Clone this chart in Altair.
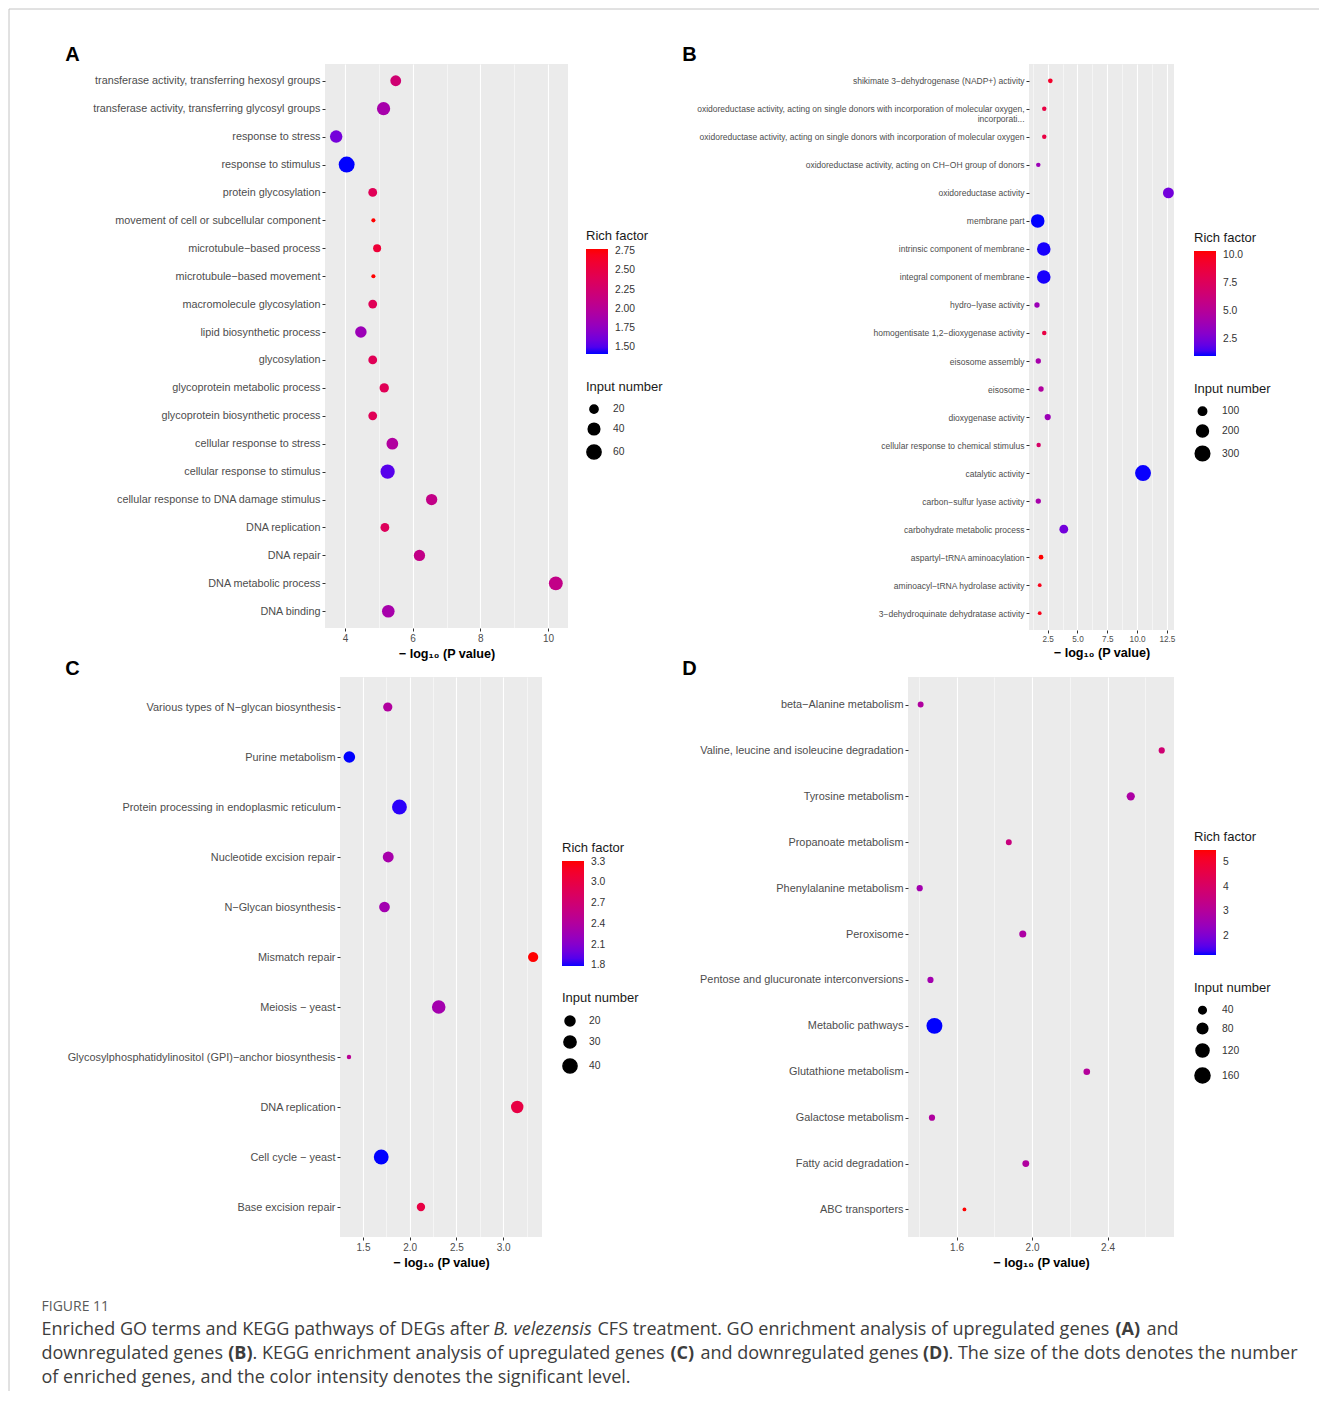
import altair as alt
import pandas as pd

# ---------------- data ----------------
A_TERMS = [
    "transferase activity, transferring hexosyl groups",
    "transferase activity, transferring glycosyl groups",
    "response to stress",
    "response to stimulus",
    "protein glycosylation",
    "movement of cell or subcellular component",
    "microtubule−based process",
    "microtubule−based movement",
    "macromolecule glycosylation",
    "lipid biosynthetic process",
    "glycosylation",
    "glycoprotein metabolic process",
    "glycoprotein biosynthetic process",
    "cellular response to stress",
    "cellular response to stimulus",
    "cellular response to DNA damage stimulus",
    "DNA replication",
    "DNA repair",
    "DNA metabolic process",
    "DNA binding",
]
A_X = [5.50, 5.14, 3.74, 4.05, 4.82, 4.84, 4.95, 4.84, 4.82, 4.47,
       4.82, 5.16, 4.82, 5.40, 5.26, 6.56, 5.18, 6.20, 10.23, 5.28]
A_RICH = [2.23, 1.89, 1.62, 1.41, 2.40, 2.78, 2.57, 2.78, 2.40, 1.82,
          2.40, 2.40, 2.40, 1.96, 1.52, 2.10, 2.37, 2.10, 2.10, 1.89]
A_N = [35, 52, 46, 75, 23, 5, 19, 5, 23, 39, 23, 26, 23, 41, 60, 38, 23, 38, 57, 47]

B_TERMS = [
    "shikimate 3−dehydrogenase (NADP+) activity",
    "oxidoreductase activity, acting on single donors with incorporation of molecular oxygen,|incorporati...",
    "oxidoreductase activity, acting on single donors with incorporation of molecular oxygen",
    "oxidoreductase activity, acting on CH−OH group of donors",
    "oxidoreductase activity",
    "membrane part",
    "intrinsic component of membrane",
    "integral component of membrane",
    "hydro−lyase activity",
    "homogentisate 1,2−dioxygenase activity",
    "eisosome assembly",
    "eisosome",
    "dioxygenase activity",
    "cellular response to chemical stimulus",
    "catalytic activity",
    "carbon−sulfur lyase activity",
    "carbohydrate metabolic process",
    "aspartyl−tRNA aminoacylation",
    "aminoacyl−tRNA hydrolase activity",
    "3−dehydroquinate dehydratase activity",
]
B_X = [2.72, 2.21, 2.21, 1.71, 12.63, 1.66, 2.17, 2.17, 1.60, 2.21,
       1.71, 1.94, 2.50, 1.74, 10.50, 1.71, 3.85, 1.94, 1.83, 1.83]
B_RICH = [9.4, 8.5, 8.5, 3.8, 2.4, 1.03, 1.1, 1.1, 3.8, 8.5,
          4.3, 4.8, 3.8, 7.1, 1.05, 4.3, 2.4, 10.35, 9.9, 9.9]
B_N = [31, 28, 28, 28, 167, 259, 259, 259, 40, 28, 40, 40, 54, 28, 357, 40, 110, 31, 20, 20]

C_TERMS = [
    "Various types of N−glycan biosynthesis",
    "Purine metabolism",
    "Protein processing in endoplasmic reticulum",
    "Nucleotide excision repair",
    "N−Glycan biosynthesis",
    "Mismatch repair",
    "Meiosis − yeast",
    "Glycosylphosphatidylinositol (GPI)−anchor biosynthesis",
    "DNA replication",
    "Cell cycle − yeast",
    "Base excision repair",
]
C_X = [1.765, 1.354, 1.89, 1.77, 1.73, 3.32, 2.31, 1.35, 3.15, 1.695, 2.12]
C_RICH = [2.40, 1.79, 1.82, 2.32, 2.29, 3.31, 2.30, 2.47, 3.00, 1.79, 3.00]
C_N = [17, 27, 44, 24, 23, 21, 37, 4, 31, 44, 14]

D_TERMS = [
    "beta−Alanine metabolism",
    "Valine, leucine and isoleucine degradation",
    "Tyrosine metabolism",
    "Propanoate metabolism",
    "Phenylalanine metabolism",
    "Peroxisome",
    "Pentose and glucuronate interconversions",
    "Metabolic pathways",
    "Glutathione metabolism",
    "Galactose metabolism",
    "Fatty acid degradation",
    "ABC transporters",
]
D_X = [1.41, 2.687, 2.523, 1.877, 1.405, 1.951, 1.462, 1.483, 2.29, 1.47, 1.967, 1.642]
D_RICH = [2.94, 3.78, 2.85, 3.57, 2.64, 2.85, 2.64, 1.24, 3.02, 2.94, 2.94, 5.48]
D_N = [25, 27, 48, 25, 27, 35, 27, 179, 31, 27, 33, 10]

CAPTION_HEAD = "FIGURE 11"
CAPTION_LINES = [
    [("Enriched GO terms and KEGG pathways of DEGs after", "n"), ("B. velezensis", "i"),
     ("CFS treatment. GO enrichment analysis of upregulated genes", "n"), ("(A)", "b"), ("and", "n")],
    [("downregulated genes", "n"), ("(B)", "b"), (". KEGG enrichment analysis of upregulated genes", "n"),
     ("(C)", "b"), ("and downregulated genes", "n"), ("(D)", "b"),
     (". The size of the dots denotes the number", "n")],
    [("of enriched genes, and the color intensity denotes the significant level.", "n")],
]

FONT = "Liberation Sans"
CAP_FONT = "Open Sans"
XTITLE = "− log₁₀ (P value)"


def deco_text(text, x, y, size, weight="normal", style="normal", color="black",
              font=FONT, align="left"):
    return alt.Chart(pd.DataFrame({"t": [text]})).mark_text(
        align=align, baseline="middle", fontSize=size, fontWeight=weight,
        fontStyle=style, color=color, font=font
    ).encode(text="t:N", x=alt.value(x), y=alt.value(y))


def deco_rule(x, x2, y, y2, color="#C4C4C4"):
    return alt.Chart(pd.DataFrame({"t": [0]})).mark_rule(color=color, strokeWidth=1).encode(
        x=alt.value(x), x2=alt.value(x2), y=alt.value(y), y2=alt.value(y2))


def panel(terms, xs, rich, ns, width, height, xdomain, xticks, xmajor, xfmt,
          rdomain, rvals, rfmt, smax, srange, svals, label_size, tick_size,
          cleg, sleg, srowpad, extra):
    df = pd.DataFrame({"term": terms, "mlog10p": xs, "rich": rich, "n": ns})
    major = "[" + ",".join(repr(v) for v in xmajor) + "]"
    is_major = f"indexof({major}, datum.value) >= 0"
    x = alt.X(
        "mlog10p:Q",
        scale=alt.Scale(domain=xdomain, nice=False, zero=False),
        axis=alt.Axis(
            values=xticks, format=xfmt,
            labelExpr=f"{is_major} ? datum.label : ''",
            title=XTITLE,
            gridWidth={"condition": {"test": is_major, "value": 1.1}, "value": 0.5},
            tickOpacity={"condition": {"test": is_major, "value": 1}, "value": 0},
            labelFontSize=tick_size,
        ),
    )
    y = alt.Y(
        "term:N", sort=terms,
        scale=alt.Scale(type="point", padding=0.6),
        axis=alt.Axis(title=None, labelLimit=1000, labelFontSize=label_size,
                      labelExpr="split(datum.label, '|')",
                      labelLineHeight=label_size * 1.15, gridWidth=1.1),
    )
    color = alt.Color(
        "rich:Q",
        scale=alt.Scale(domain=rdomain, range=["#0000FF", "#FF0000"], interpolate="lab"),
        legend=alt.Legend(title="Rich factor", values=rvals, format=rfmt, orient="none",
                          legendX=cleg[0], legendY=cleg[1], direction="vertical",
                          gradientLength=105, gradientThickness=22, labelOffset=7),
    )
    size = alt.Size(
        "n:Q",
        scale=alt.Scale(domain=[0, smax], range=[0, srange]),
        legend=alt.Legend(title="Input number", values=svals, orient="none",
                          legendX=sleg[0], legendY=sleg[1], direction="vertical",
                          symbolFillColor="black", symbolStrokeColor="black",
                          rowPadding=srowpad, labelOffset=11, titlePadding=10),
    )
    pts = alt.Chart(df).mark_circle(opacity=1, color="black").encode(
        x=x, y=y, color=color, size=size)
    return alt.layer(pts, *extra).properties(
        width=width, height=height,
        view=alt.ViewBackground(fill="#EBEBEB", stroke=None),
    )


# ---- decorations (relative to each panel's plot origin) ----
AX0, AY0 = 324.5, 63.5  # page position of panel A plot area
cap_pos = [
    [(41, "left"), (493, "left"), (597, "left"), (1115, "left"), (1146, "left")],
    [(41, "left"), (252, "right"), (252, "left"), (670, "left"), (700, "left"),
     (948, "right"), (948, "left")],
    [(41, "left")],
]
cap_y = [1329, 1353, 1377]
style_map = {"n": ("normal", "normal"), "i": ("normal", "italic"), "b": ("bold", "normal")}

deco_a = [
    deco_rule(-316, 994, -55, -55),
    deco_rule(-316, -316, -55, 1327),
    deco_text("A", 72 - AX0, 54.5 - AY0, 20, weight="bold", align="center"),
    deco_text(CAPTION_HEAD, 41 - AX0, 1306 - AY0, 14, color="#5a5a5a", font=CAP_FONT),
]
for li, segs in enumerate(CAPTION_LINES):
    for si, (txt, st) in enumerate(segs):
        w, s = style_map[st]
        px, al = cap_pos[li][si]
        deco_a.append(deco_text(txt, px - AX0, cap_y[li] - AY0, 18,
                                weight=w, style=s, color="#3d3d3d", font=CAP_FONT,
                                align=al))

pa = panel(A_TERMS, A_X, A_RICH, A_N, 243, 564, [3.41, 10.59],
           [4, 5, 6, 7, 8, 9, 10], [4, 6, 8, 10], "d",
           [1.41, 2.78], [1.5, 1.75, 2.0, 2.25, 2.5, 2.75], ".2f",
           80, 270, [20, 40, 60], 10.8, 10, (261, 166), (261, 317), 3, deco_a)

pb = panel(B_TERMS, B_X, B_RICH, B_N, 145, 566, [0.93, 13.1],
           [1.25, 2.5, 3.75, 5.0, 6.25, 7.5, 8.75, 10.0, 11.25, 12.5],
           [2.5, 5.0, 7.5, 10.0, 12.5], ".1f",
           [1.03, 10.35], [2.5, 5.0, 7.5, 10.0], ".1f",
           380, 270, [100, 200, 300], 8.5, 8.2, (165, 168), (165, 319), 3,
           [deco_text("B", -339.5, -9, 20, weight="bold", align="center")])

pc = panel(C_TERMS, C_X, C_RICH, C_N, 202, 560, [1.254, 3.415],
           [1.25, 1.5, 1.75, 2.0, 2.25, 2.5, 2.75, 3.0, 3.25],
           [1.5, 2.0, 2.5, 3.0], ".1f",
           [1.79, 3.31], [1.8, 2.1, 2.4, 2.7, 3.0, 3.3], ".1f",
           48, 240, [20, 30, 40], 10.9, 10, (222, 165), (222, 315), 3,
           [deco_text("C", -267.5, -8.5, 20, weight="bold", align="center")])

pdd = panel(D_TERMS, D_X, D_RICH, D_N, 266, 560, [1.343, 2.752],
            [1.4, 1.6, 1.8, 2.0, 2.2, 2.4, 2.6],
            [1.6, 2.0, 2.4], ".1f",
            [1.24, 5.48], [2, 3, 4, 5], "d",
            190, 270, [40, 80, 120, 160], 10.9, 10, (286, 154), (286, 305), 3,
            [deco_text("D", -218.5, -8.5, 20, weight="bold", align="center")])

spacer = alt.Chart(pd.DataFrame({"t": [0]})).mark_point(opacity=0).encode(
    x=alt.value(0), y=alt.value(0)).properties(width=15, height=10)

RES = dict(color="independent", size="independent")

row1 = alt.hconcat(pa, pb, spacing=461, bounds="flush").resolve_scale(**RES).resolve_legend(**RES)
cwrap = alt.hconcat(spacer, pc, spacing=0, bounds="flush").resolve_scale(**RES).resolve_legend(**RES)
row2 = alt.hconcat(cwrap, pdd, spacing=583, bounds="flush").resolve_scale(**RES).resolve_legend(**RES)

chart = alt.vconcat(row1, row2, spacing=613, bounds="flush").resolve_scale(**RES).resolve_legend(**RES)
chart = chart.properties(padding=0, background="white").configure_view(stroke=None).configure_axis(
    labelFont=FONT, titleFont=FONT, labelColor="#4D4D4D", tickColor="#333333",
    tickSize=3, tickWidth=1, domain=False, gridColor="white", labelPadding=2,
    titleFontSize=12.6, titleFontWeight="bold", titleColor="black", titlePadding=4,
).configure_legend(
    titleFont=FONT, labelFont=FONT, titleFontSize=13, titleFontWeight="normal",
    titleColor="#1A1A1A", labelFontSize=10.3, labelColor="#333333", padding=0,
    titlePadding=6,
)

chart.save("out.html", embed_options={"renderer": "svg", "actions": False})
